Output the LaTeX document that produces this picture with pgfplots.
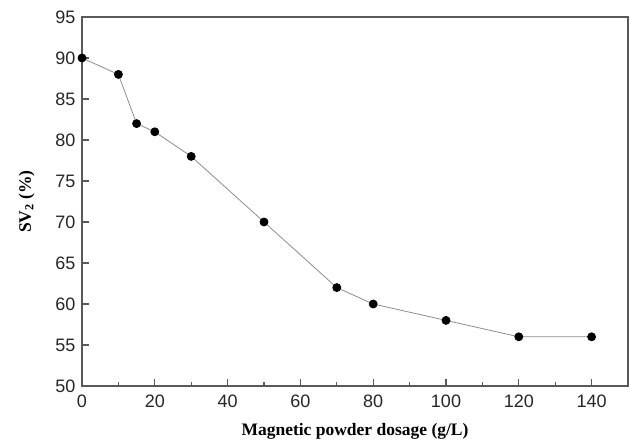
\documentclass[border=0pt]{standalone}
\usepackage{pgfplots}
\pgfplotsset{compat=1.18}
\usepackage{fontspec}
\setmainfont{Liberation Serif}
\newfontfamily\arial{Liberation Sans}
\begin{document}
\begin{tikzpicture}
\begin{axis}[name=ax,
  scale only axis, width=546pt, height=369pt,
  xmin=0, xmax=150, ymin=50, ymax=95,
  xtick={0,20,...,140}, minor xtick={10,30,...,130},
  ytick={50,55,...,95},
  tick align=inside, tick pos=left,
  major tick length=7pt, minor tick length=4pt,
  axis line style={draw=black!65, line width=1.1pt},
  every tick/.style={draw=black!65, line width=1.1pt},
  /pgf/number format/assume math mode=true,
  ticklabel style={font=\arial\fontsize{18}{20}\selectfont, text=black!85},
  xticklabel style={yshift=-5pt},
  yticklabel style={xshift=-3pt},
  xlabel={\bfseries\fontsize{17.5}{20}\selectfont Magnetic powder dosage (g/L)},
  ylabel={\bfseries\fontsize{17.5}{20}\selectfont SV\textsubscript{2} (\%)},
  xlabel style={yshift=-9pt},
  ylabel style={yshift=14pt},
  clip=false,
]
\addplot[color=black!45, line width=0.8pt, mark=*, mark size=4pt,
  mark options={fill=black, draw=black}] coordinates {
(0,90) (10,88) (15,82) (20,81) (30,78) (50,70) (70,62) (80,60) (100,58) (120,56) (140,56)
};
\end{axis}
\pgfresetboundingbox
\path ([shift={(-82pt,-58pt)}]ax.south west) rectangle ([shift={(2pt,17pt)}]ax.north east);
\end{tikzpicture}
\end{document}
